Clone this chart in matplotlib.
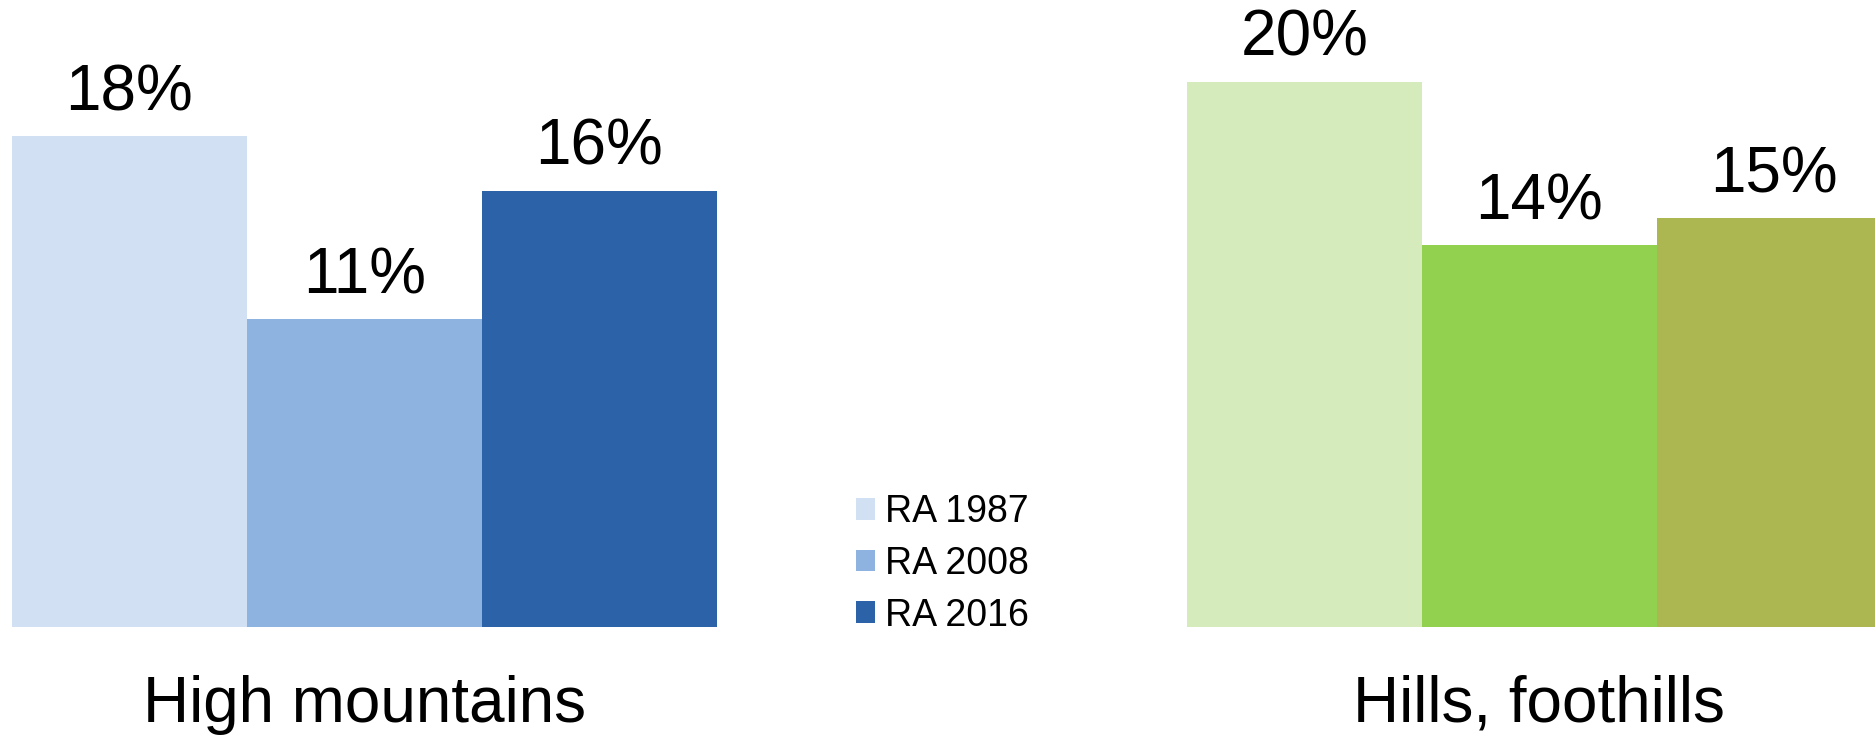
import matplotlib
matplotlib.use("Agg")
import matplotlib.pyplot as plt
from matplotlib.patches import Patch

plt.rcParams['font.family'] = ['Liberation Sans', 'DejaVu Sans']

# data
regions = ['High mountains', 'Hills, foothills']
series = ['RA 1987', 'RA 2008', 'RA 2016']
high_mountains = [18, 11.3, 16]
hills_foothills = [20, 14, 15]
high_labels = ['18%', '11%', '16%']
hills_labels = ['20%', '14%', '15%']

blue_colours = ['#D1E0F2', '#8EB3E1', '#2C63A8']
green_colours = ['#D5EBBC', '#92D050', '#ACB752']

fig = plt.figure(figsize=(18.75, 7.35), dpi=100)
ax = fig.add_axes([0, 0, 1, 1])

group_pos = [0, 5]
offsets = [-1, 0, 1]

for gx, vals, labs, cols in [(group_pos[0], high_mountains, high_labels, blue_colours),
                             (group_pos[1], hills_foothills, hills_labels, green_colours)]:
    xs = [gx + o for o in offsets]
    bars = ax.bar(xs, vals, width=1.0, color=cols, linewidth=0)
    for b, v, lab in zip(bars, vals, labs):
        ax.annotate(lab, (b.get_x() + b.get_width() / 2, v),
                    xytext=(0, 18.5), textcoords='offset points',
                    ha='center', va='baseline', fontsize=46)

# category labels under each group
for gx, name in zip(group_pos, regions):
    ax.text(gx, -3.48, name, ha='center', va='baseline', fontsize=46)

ax.set_xlim(-1.551, 6.428)
ax.set_ylim(-3.96, 22.99)
ax.axis('off')

# legend only for the blue series
handles = [Patch(facecolor=c, edgecolor='none', label=s)
           for c, s in zip(blue_colours, series)]
fig.legend(handles=handles, loc='upper left',
           bbox_to_anchor=(856 / 1875, 1 - 494 / 735),
           frameon=False, fontsize=27, handlelength=0.51, handleheight=0.51,
           handletextpad=0.27, labelspacing=0.42, borderpad=0, borderaxespad=0)

fig.savefig('out.png', dpi=100)
